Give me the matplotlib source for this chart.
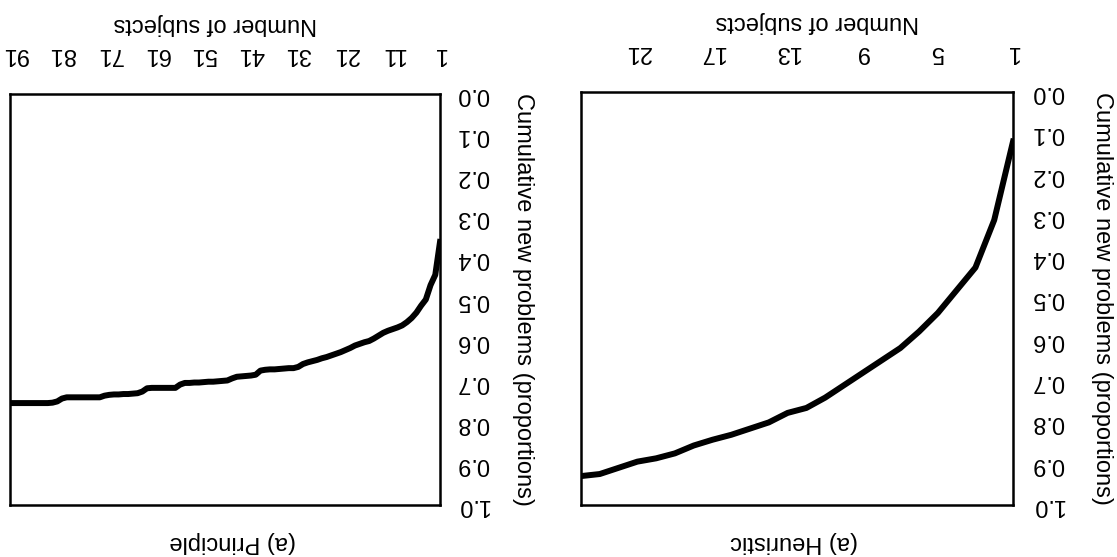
import matplotlib
matplotlib.use('Agg')
import matplotlib.pyplot as plt
import numpy as np

plt.rcParams['font.family'] = ['Liberation Sans', 'DejaVu Sans']

#### Data (cumulative proportion of new problems per subject)
heuristic_props = [0.12, 0.31, 0.425, 0.48, 0.535, 0.58, 0.62, 0.65, 0.68, 0.71,
                   0.74, 0.765, 0.777, 0.80, 0.815, 0.83, 0.842, 0.856, 0.875, 0.887,
                   0.895, 0.91, 0.925, 0.93]
heuristic_ticks = [1, 5, 9, 13, 17, 21]

principle_props = [0.36, 0.44, 0.465, 0.50, 0.515, 0.532, 0.545, 0.555, 0.563, 0.568,
                   0.572, 0.576, 0.581, 0.588, 0.595, 0.601, 0.604, 0.608, 0.612, 0.618,
                   0.623, 0.628, 0.632, 0.636, 0.640, 0.643, 0.647, 0.650, 0.653, 0.657,
                   0.664, 0.667, 0.667, 0.668, 0.669, 0.670, 0.670, 0.671, 0.673, 0.683,
                   0.685, 0.686, 0.687, 0.688, 0.692, 0.697, 0.698, 0.699, 0.700, 0.700,
                   0.701, 0.702, 0.702, 0.703, 0.703, 0.707, 0.715, 0.715, 0.715, 0.715,
                   0.715, 0.715, 0.716, 0.724, 0.728, 0.729, 0.730, 0.730, 0.731, 0.731,
                   0.732, 0.734, 0.738, 0.738, 0.738, 0.738, 0.738, 0.738, 0.738, 0.738,
                   0.741, 0.748, 0.751, 0.752, 0.752, 0.752, 0.752, 0.752, 0.752, 0.752,
                   0.752, 0.752]
principle_ticks = [1, 11, 21, 31, 41, 51, 61, 71, 81, 91]

y_ticks = [0.0, 0.1, 0.2, 0.3, 0.4, 0.5, 0.6, 0.7, 0.8, 0.9, 1.0]

x_title = 'Number of subjects'
y_title = 'Cumulative new problems (proportions)'

fig = plt.figure(figsize=(11.17, 5.57), dpi=100)

#### Panels (the whole chart is shown turned upside down)
panels = [
    # props, ticks, caption, axes rect, xlabel x, ylabel x, caption x, ytick pad
    (heuristic_props, heuristic_ticks, '(a) Heuristic', [581/1117, 52/557, 432/1117, 413/557], 0.547, 1.206, 0.494, 13),
    (principle_props, principle_ticks, '(a) Principle', [10/1117, 52/557, 430/1117, 411/557], 0.477, 1.193, 0.519, 12),
]

for props, ticks, caption, rect, xl, yl, cx, ypad in panels:
    ax = fig.add_axes(rect)
    subjects = np.arange(1, len(props) + 1)
    ax.plot(subjects, props, color='black', linewidth=4.3)

    ax.set_xlim(len(props), 1)
    ax.set_ylim(1.0, 0.0)
    ax.set_xticks(ticks)
    ax.set_xticklabels([str(t) for t in ticks])
    ax.set_yticks(y_ticks)
    ax.set_yticklabels(['%.1f' % v for v in y_ticks])

    ax.xaxis.tick_top()
    ax.yaxis.tick_right()
    ax.tick_params(axis='x', length=0, pad=21, labelsize=17, labelrotation=180)
    ax.tick_params(axis='y', length=0, pad=ypad, labelsize=17, labelrotation=180)
    for lab in ax.get_yticklabels():
        lab.set_va('center')

    for sp in ax.spines.values():
        sp.set_linewidth(1.8)
        sp.set_color('black')

    h = rect[3] * 557
    ax.text(xl, 1 + 70 / h, x_title, transform=ax.transAxes, rotation=180,
            ha='center', va='center', fontsize=17)
    ax.text(yl, 0.5, y_title, transform=ax.transAxes, rotation=270,
            ha='center', va='center', fontsize=17)
    ax.text(cx, -37 / h, caption, transform=ax.transAxes, rotation=180,
            ha='center', va='center', fontsize=17)

plt.savefig('out.png', dpi=100, facecolor='white')
